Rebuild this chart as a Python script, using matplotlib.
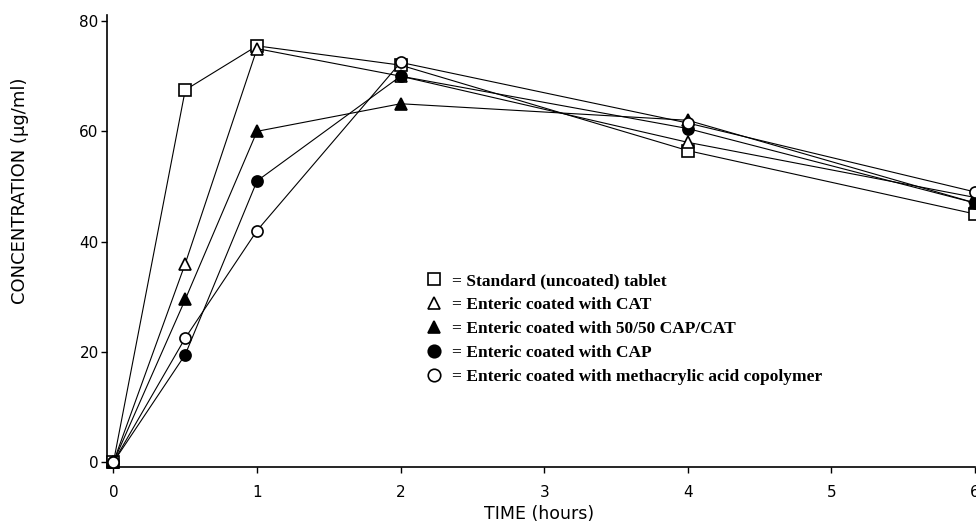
import matplotlib
matplotlib.use("Agg")
import matplotlib.pyplot as plt
from matplotlib.lines import Line2D

# ---- data ----
time_h = [0, 0.5, 1, 2, 4, 6]
standard = [0, 67.5, 75.5, 72.0, 56.5, 45.0]
cat = [0, 36.0, 75.0, 70.0, 58.0, 48.0]
cap_cat = [0, 29.5, 60.0, 65.0, 62.0, 47.0]
cap = [0, 19.5, 51.0, 70.0, 60.5, 47.0]
methacrylic = [0, 22.5, 42.0, 72.5, 61.5, 49.0]

labels = [
    "= Standard (uncoated) tablet",
    "= Enteric coated with CAT",
    "= Enteric coated with 50/50 CAP/CAT",
    "= Enteric coated with CAP",
    "= Enteric coated with methacrylic acid copolymer",
]
x_ticks = [0, 1, 2, 3, 4, 5, 6]
y_ticks = [0, 20, 40, 60, 80]

series = [
    (standard, "s", "white"),
    (cat, "^", "white"),
    (cap_cat, "^", "black"),
    (cap, "o", "black"),
    (methacrylic, "o", "white"),
]

plt.rcParams["font.family"] = ["DejaVu Sans"]

fig = plt.figure(figsize=(9.76, 5.28), dpi=100)
ax = fig.add_axes([107 / 976, 1 - 467 / 528, 868 / 976, 452 / 528])

for vals, mk, fc in series:
    ax.plot(time_h, vals, color="black", lw=0.8, marker=mk, markersize=8,
            markerfacecolor=fc, markeredgecolor="black", markeredgewidth=1.2,
            clip_on=False, zorder=3)

ax.set_xlim(-0.045, 6.0)
ax.set_ylim(-0.9, 81.1)
ax.set_xticks(x_ticks)
ax.set_yticks(y_ticks)
ax.tick_params(direction="out", length=4, width=1, labelsize=11, color="black")
ax.tick_params(axis="x", pad=9)
ax.tick_params(axis="y", pad=2)
for s in ["top", "right"]:
    ax.spines[s].set_visible(False)
for s in ["left", "bottom"]:
    ax.spines[s].set_linewidth(1.2)

ax.set_xlabel("TIME (hours)", fontsize=12.5)
ax.xaxis.set_label_coords(0.5 - 2 / 868, -0.104)
ax.xaxis.label.set_verticalalignment("center")
ax.set_ylabel("CONCENTRATION (\u03bcg/ml)", fontsize=13)
ax.yaxis.set_label_coords(-0.100, 0.611)
ax.yaxis.label.set_verticalalignment("center")

handles = [Line2D([], [], linestyle="none", marker=mk, markersize=9,
                  markerfacecolor=fc, markeredgecolor="black", markeredgewidth=1.2)
           for _, mk, fc in series]
leg = fig.legend(handles, labels, loc="upper left",
                 bbox_to_anchor=(418 / 976, 1 - 266 / 528),
                 frameon=False, handlelength=1.0, handletextpad=0.55,
                 labelspacing=0.45, borderaxespad=0,
                 prop={"family": "Liberation Serif", "weight": "bold", "size": 12.5})

fig.savefig("out.png", dpi=100)
